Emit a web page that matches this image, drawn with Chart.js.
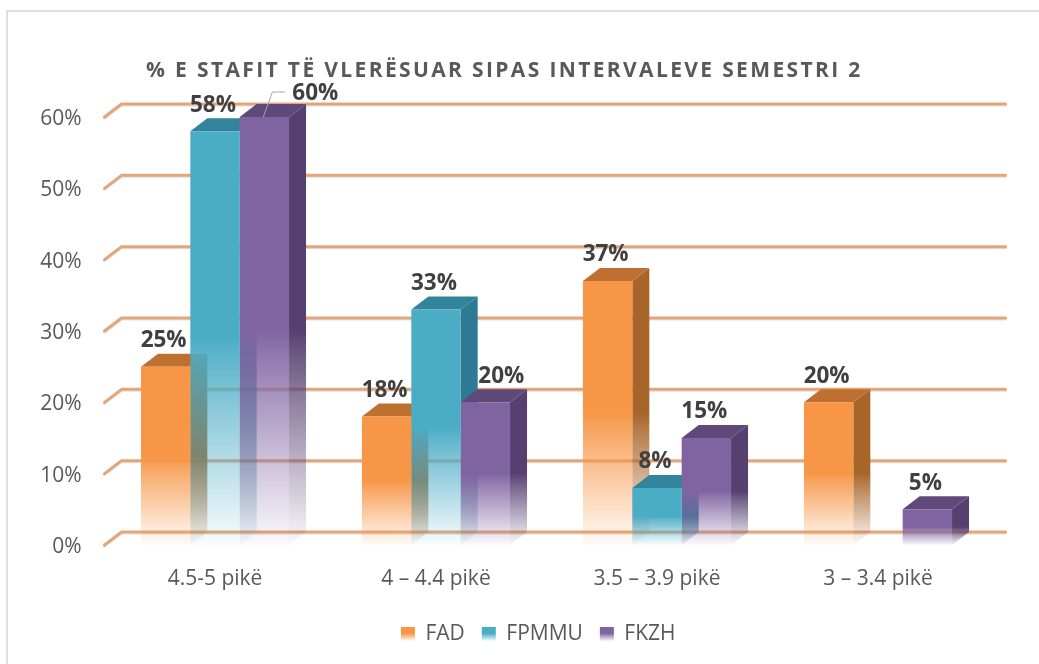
<!DOCTYPE html>
<html lang="sq">
<head>
    <meta charset="UTF-8">
    <title>% e stafit të vlerësuar</title>
    <script src="https://cdn.jsdelivr.net/npm/chart.js"></script>
    <style>
        html, body { margin: 0; padding: 0; background: #fff; overflow: hidden; }
        #wrap { position: relative; width: 1039px; height: 664px; }
        #frame { position: absolute; left: 6px; top: 10px; right: 0; bottom: 0; border-left: 2px solid #dedede; border-top: 2px solid #dedede; }
        canvas { position: absolute; left: 0; top: 0; }
    </style>
</head>
<body>
<div id="wrap">
    <div id="frame"></div>
    <canvas id="chart" width="1039" height="664"></canvas>
</div>
<script>
const categories = ['4.5-5 pikë', '4 – 4.4 pikë', '3.5 – 3.9 pikë', '3 – 3.4 pikë'];
const seriesNames = ['FAD', 'FPMMU', 'FKZH'];
const fad = [25, 18, 37, 20];
const fpmmu = [58, 33, 8, null];
const fkzh = [60, 20, 15, 5];
const yTicks = [0, 10, 20, 30, 40, 50, 60];

const FONT = '"Open Sans", sans-serif';
const DEPTH_X = 17, DEPTH_Y = 13;
const front = [[247, 150, 70], [75, 172, 198], [128, 100, 162]];
const sideCol = [[168, 101, 42], [46, 122, 146], [86, 64, 112]];
const topCol = [[189, 112, 48], [49, 132, 155], [95, 72, 122]];

function rgba(c, a) { return 'rgba(' + c[0] + ',' + c[1] + ',' + c[2] + ',' + a + ')'; }

// solid on the upper half, then fades out towards the floor
function fade(ctx, y0, y1, c) {
    const g = ctx.createLinearGradient(0, y0, 0, y1);
    g.addColorStop(0, rgba(c, 1));
    g.addColorStop(0.5, rgba(c, 1));
    g.addColorStop(0.55, rgba(c, 0.88));
    g.addColorStop(1, rgba(c, 0.03));
    return g;
}

function barFill(context) {
    const chart = context.chart;
    if (!chart.chartArea || context.raw == null) return rgba(front[context.datasetIndex], 1);
    const s = chart.scales.y;
    return fade(chart.ctx, s.getPixelForValue(context.raw), s.getPixelForValue(0), front[context.datasetIndex]);
}

const wall3d = {
    id: 'wall3d',
    afterLayout(chart) {
        // title and legend are not centred on the canvas in the original
        const t = chart.titleBlock;
        t.left = 146;
        if (!t._spaced) {
            const d = t.draw;
            t.draw = function () {
                chart.ctx.save();
                chart.ctx.letterSpacing = '2.36px';
                d.call(t);
                chart.ctx.restore();
            };
            t._spaced = true;
        }
        chart.legend.left += 44;
        chart.legend.right += 44;
    },
    beforeDatasetsDraw(chart) {
        const ctx = chart.ctx, s = chart.scales.y, a = chart.chartArea;
        // back wall lines with the slanted piece on the left
        yTicks.forEach(v => {
            const y = s.getPixelForValue(v);
            [['#e2e2e2', 1], ['#e3a679', 0]].forEach(st => {
                ctx.beginPath();
                ctx.moveTo(a.left, y + st[1]);
                ctx.lineTo(a.left + DEPTH_X, y - DEPTH_Y + st[1]);
                ctx.lineTo(a.right + DEPTH_X, y - DEPTH_Y + st[1]);
                ctx.strokeStyle = st[0];
                ctx.lineWidth = 3;
                ctx.lineCap = 'round';
                ctx.lineJoin = 'round';
                ctx.stroke();
            });
        });
        // tops and sides of the bars, the fronts go on top of these
        chart.data.datasets.forEach((ds, i) => {
            chart.getDatasetMeta(i).data.forEach((b, j) => {
                if (ds.data[j] == null) return;
                const w = b.width / 2, y0 = b.y, y1 = b.base;
                ctx.fillStyle = fade(ctx, y0, y1, sideCol[i]);
                ctx.beginPath();
                ctx.moveTo(b.x + w, y0);
                ctx.lineTo(b.x + w + DEPTH_X, y0 - DEPTH_Y);
                ctx.lineTo(b.x + w + DEPTH_X, y1 - DEPTH_Y);
                ctx.lineTo(b.x + w, y1);
                ctx.closePath();
                ctx.fill();
                ctx.fillStyle = rgba(topCol[i], 1);
                ctx.beginPath();
                ctx.moveTo(b.x - w, y0);
                ctx.lineTo(b.x - w + DEPTH_X, y0 - DEPTH_Y);
                ctx.lineTo(b.x + w + DEPTH_X, y0 - DEPTH_Y);
                ctx.lineTo(b.x + w, y0);
                ctx.closePath();
                ctx.fill();
            });
        });
    },
    afterDatasetsDraw(chart) {
        const ctx = chart.ctx;
        ctx.save();
        ctx.font = 'bold 22.5px ' + FONT;
        ctx.fillStyle = '#404040';
        ctx.textAlign = 'center';
        ctx.textBaseline = 'middle';
        chart.data.datasets.forEach((ds, i) => {
            chart.getDatasetMeta(i).data.forEach((b, j) => {
                const v = ds.data[j];
                if (v == null) return;
                let dx = -2, dy = -26;
                if (i === 2 && j === 0) {
                    dx = 51; dy = -23;
                    // leader line to the moved label
                    ctx.beginPath();
                    ctx.moveTo(b.x - 1, b.y);
                    ctx.lineTo(b.x + 8, b.y - 25);
                    ctx.lineTo(b.x + 20, b.y - 25);
                    ctx.strokeStyle = '#a6a6a6';
                    ctx.lineWidth = 1;
                    ctx.stroke();
                }
                if (i === 2 && j === 1) dx = 16;
                ctx.fillText(v + '%', b.x + dx, b.y + dy);
            });
        });
        ctx.restore();
    }
};

new Chart(document.getElementById('chart'), {
    type: 'bar',
    data: {
        labels: categories,
        datasets: [
            { label: seriesNames[0], data: fad, backgroundColor: barFill },
            { label: seriesNames[1], data: fpmmu, backgroundColor: barFill },
            { label: seriesNames[2], data: fkzh, backgroundColor: barFill }
        ]
    },
    options: {
        responsive: false,
        animation: false,
        layout: { padding: { left: 0, right: 50.5, top: 58, bottom: 9 } },
        datasets: { bar: { categoryPercentage: 0.67, barPercentage: 1, borderWidth: 0 } },
        scales: {
            x: {
                grid: { display: false },
                border: { display: false },
                ticks: { color: '#595959', font: { family: FONT, size: 21 }, padding: 13, maxRotation: 0 },
                afterFit(scale) { scale.height = 62; }
            },
            y: {
                min: 0,
                max: 60,
                grid: { display: false, drawTicks: false },
                border: { display: false },
                ticks: { color: '#595959', font: { family: FONT, size: 21 }, padding: 23, labelOffset: 2, stepSize: 10, callback: v => v + '%' },
                afterFit(scale) { scale.width = 104.5; }
            }
        },
        plugins: {
            title: {
                display: true,
                text: '% E STAFIT TË VLERËSUAR SIPAS INTERVALEVE SEMESTRI 2',
                align: 'start',
                color: '#595959',
                font: { family: FONT, size: 21, weight: 'bold' },
                padding: { top: 0, bottom: 33.8 }
            },
            legend: {
                position: 'bottom',
                labels: {
                    color: '#595959',
                    font: { family: FONT, size: 21 },
                    boxWidth: 14,
                    boxHeight: 15,
                    padding: 17,
                    generateLabels(chart) {
                        return seriesNames.map((n, i) => ({
                            text: n,
                            datasetIndex: i,
                            fontColor: '#595959',
                            lineWidth: 0,
                            fillStyle: fade(chart.ctx, 626, 641, front[i])
                        }));
                    }
                }
            },
            tooltip: { enabled: false }
        }
    },
    plugins: [wall3d]
});
</script>
</body>
</html>
